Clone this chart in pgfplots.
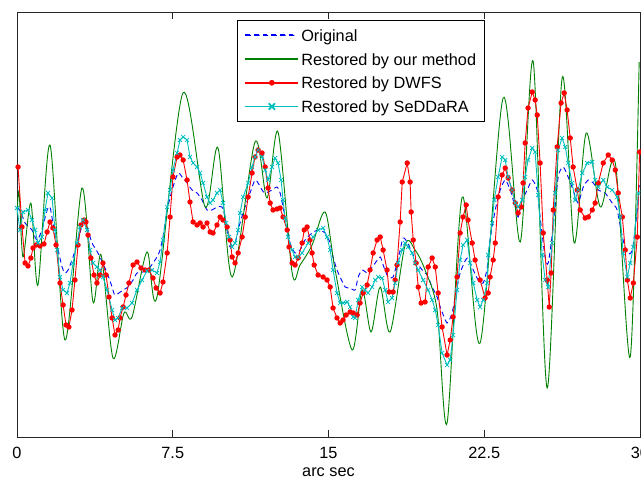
\documentclass[border=0pt]{standalone}
\usepackage{fontspec}
\setmainfont{Liberation Sans}
\usepackage{pgfplots}
\pgfplotsset{compat=1.18}
\definecolor{mblue}{rgb}{0,0,1}
\definecolor{mgreen}{rgb}{0,0.5,0}
\definecolor{mred}{rgb}{1,0,0}
\definecolor{mcyan}{rgb}{0,0.75,0.75}
\newcommand{\lf}{\fontsize{16.3}{19}\selectfont}
\begin{document}
\begin{tikzpicture}
\begin{axis}[
  at={(0pt,0pt)}, anchor=south west,
  scale only axis, width=623pt, height=425pt,
  xmin=0, xmax=30, ymin=0, ymax=425,
  xtick={0,7.5,15,22.5,30},
  ytick=\empty,
  tick align=inside,
  xtick pos=both,
  major tick length=7pt,
  /pgf/number format/assume math mode=true,
  xticklabel style={font=\lf, inner sep=0pt, yshift=-10pt},
  xlabel={arc sec},
  xlabel style={font=\lf, at={(axis description cs:0.5,0)}, anchor=base, yshift=-40pt},
  axis line style={line width=0.8pt, black!85},
  tick style={line width=0.8pt, black!85},
  legend style={font=\lf, at={(0.3531,0.9812)}, anchor=north west, line width=0.8pt, fill=white, inner xsep=8pt, inner ysep=6pt, row sep=5.7pt, column sep=3pt, nodes={inner sep=0pt, text height=15pt, text depth=3pt}},
  legend cell align=left,
]
\addplot[color=mblue, line width=0.9pt, dash pattern=on 5pt off 3.5pt, smooth, tension=0.4,
  legend image code/.code={\fill[mblue] (0pt,-0.45pt) rectangle (5pt,0.45pt) (8.7pt,-0.45pt) rectangle (13.7pt,0.45pt) (17.4pt,-0.45pt) rectangle (22.4pt,0.45pt) (26.1pt,-0.45pt) rectangle (31.1pt,0.45pt) (34.8pt,-0.45pt) rectangle (39.8pt,0.45pt) (43.5pt,-0.45pt) rectangle (48.5pt,0.45pt);}] coordinates {
(0.00,230) (0.19,225) (0.39,214) (0.72,207) (0.96,197) (1.20,207) (1.45,227) (1.59,230) (1.73,214) (1.93,192) (2.17,170) (2.31,164) (2.46,167) (2.70,180) (2.94,197) (3.18,214) (3.37,210) (3.61,194) (3.76,189) (4.00,180) (4.34,164) (4.58,150) (4.72,142) (5.11,147) (5.35,150) (5.59,157) (5.78,164) (6.07,165) (6.41,170) (6.74,180) (6.89,187) (7.03,200) (7.23,227) (7.51,250) (7.76,264) (7.95,260) (8.19,254) (8.43,247) (8.67,244) (8.91,237) (9.15,227) (9.39,227) (9.63,230) (9.87,230) (10.02,220) (10.16,200) (10.26,190) (10.50,194) (10.74,214) (10.98,230) (11.22,244) (11.46,257) (11.61,254) (11.80,247) (11.95,244) (12.28,247) (12.52,250) (12.67,244) (12.81,230) (13.01,210) (13.15,194) (13.39,184) (13.63,187) (13.87,197) (14.21,204) (14.50,207) (14.84,204) (15.08,194) (15.22,180) (15.41,167) (15.56,160) (15.80,150) (16.04,149) (16.28,147) (16.43,160) (16.62,167) (16.86,164) (17.00,167) (17.25,174) (17.49,180) (17.63,172) (17.87,160) (18.11,160) (18.30,174) (18.45,187) (18.59,199) (18.79,195) (19.03,184) (19.27,174) (19.51,167) (19.75,162) (19.99,150) (20.23,140) (20.38,130) (20.71,114) (20.95,124) (21.10,140) (21.34,164) (21.68,179) (21.97,167) (22.21,157) (22.45,154) (22.64,169) (22.78,197) (23.03,227) (23.27,247) (23.51,257) (23.75,247) (23.99,230) (24.13,220) (24.33,237) (24.57,247) (24.81,257) (25.05,247) (25.19,220) (25.43,180) (25.58,174) (25.82,210) (26.06,260) (26.30,270) (26.54,260) (26.78,247) (27.02,234) (27.27,250) (27.51,257) (27.75,254) (27.99,247) (28.32,244) (28.66,234) (28.90,227) (29.15,200) (29.39,184) (29.63,187) (29.87,227) (29.96,252)
};
\addlegendentry{Original}
\addplot[color=mgreen, line width=0.9pt, smooth,
  legend image code/.code={\fill[mgreen] (0pt,-0.45pt) rectangle (52pt,0.45pt);}] coordinates {
(0,222) (0.10,245) (0.29,180) (0.67,234) (1.01,152) (1.59,292) (2.31,97) (3.13,249) (3.66,135) (4.05,182) (4.62,79) (5.15,124) (5.54,120) (6.26,185) (6.74,140) (7.99,344) (9.06,230) (9.68,289) (10.36,160) (11.46,295) (12.04,239) (12.57,305) (13.25,164) (13.63,172) (14.21,192) (14.84,225) (15.32,167) (16.14,87) (16.62,147) (17.05,105) (17.49,150) (17.97,105) (18.69,192) (19.17,187) (19.65,167) (20.23,127) (20.71,14) (21.44,240) (22.30,94) (23.41,339) (24.23,195) (24.86,375) (25.53,49) (26.25,359) (26.83,194) (27.41,304) (28.09,230) (28.81,274) (29.53,80) (29.96,375)
};
\addlegendentry{Restored by our method}
\addplot[color=mred, line width=0.9pt, mark=*, mark size=2.2pt, mark options={solid, fill=mred, draw=mred},
  legend image code/.code={\fill[mred] (0pt,-0.45pt) rectangle (52pt,0.45pt); \fill[mred] (26pt,0pt) circle (2.4pt);}] coordinates {
(0.05,270) (0.24,210) (0.39,174) (0.53,171) (0.67,179) (0.77,189) (0.92,192) (1.11,191) (1.30,193) (1.45,205) (1.59,215) (1.73,209) (1.88,192) (2.07,154) (2.22,132) (2.36,112) (2.50,110) (2.65,127) (2.79,157) (2.94,192) (3.08,212) (3.23,217) (3.32,215) (3.42,202) (3.56,179) (3.71,162) (3.85,154) (4.00,162) (4.14,174) (4.29,162) (4.43,140) (4.58,119) (4.72,102) (4.87,107) (4.96,119) (5.11,130) (5.25,142) (5.39,154) (5.59,172) (5.78,175) (5.97,169) (6.17,167) (6.36,167) (6.55,159) (6.70,149) (6.89,144) (7.03,155) (7.23,184) (7.37,220) (7.51,260) (7.71,280) (7.85,282) (8.00,277) (8.19,257) (8.33,235) (8.48,215) (8.67,212) (8.82,214) (8.96,210) (9.15,214) (9.30,205) (9.44,204) (9.63,212) (9.78,220) (9.92,217) (10.12,210) (10.26,197) (10.36,180) (10.50,174) (10.65,184) (10.84,200) (10.99,220) (11.13,240) (11.32,264) (11.46,280) (11.61,287) (11.80,284) (11.95,270) (12.09,249) (12.19,234) (12.33,227) (12.52,228) (12.67,229) (12.81,220) (13.01,207) (13.10,190) (13.25,174) (13.39,172) (13.54,179) (13.73,194) (13.83,207) (13.97,210) (14.11,197) (14.21,184) (14.31,172) (14.50,162) (14.74,160) (14.93,157) (15.08,150) (15.22,129) (15.41,119) (15.56,114) (15.70,117) (15.85,122) (16.04,125) (16.19,124) (16.38,122) (16.52,134) (16.67,144) (16.86,152) (17.00,167) (17.15,184) (17.34,197) (17.49,200) (17.63,187) (17.82,167) (17.92,145) (18.11,145) (18.21,157) (18.30,172) (18.45,215) (18.55,255) (18.79,274) (18.93,255) (18.98,225) (19.08,197) (19.22,174) (19.32,150) (19.46,134) (19.65,135) (19.80,170) (19.99,179) (20.14,170) (20.28,144) (20.47,110) (20.71,82) (20.86,97) (21.00,120) (21.19,160) (21.34,204) (21.48,220) (21.63,232) (21.72,217) (21.92,194) (22.06,177) (22.30,157) (22.54,139) (22.69,144) (22.78,160) (22.93,177) (23.03,194) (23.17,240) (23.36,262) (23.51,269) (23.65,259) (23.84,247) (23.99,234) (24.13,224) (24.28,230) (24.37,254) (24.47,294) (24.61,329) (24.81,345) (24.95,337) (25.05,322) (25.19,274) (25.34,204) (25.53,157) (25.63,130) (25.72,164) (25.82,227) (26.01,290) (26.20,334) (26.35,344) (26.49,327) (26.64,299) (26.78,270) (26.98,247) (27.12,227) (27.36,219) (27.51,220) (27.70,227) (27.84,234) (27.99,254) (28.23,274) (28.47,282) (28.66,277) (28.81,267) (28.95,244) (29.15,220) (29.29,187) (29.39,157) (29.53,139) (29.68,154) (29.87,200) (29.98,285)
};
\addlegendentry{Restored by DWFS}
\addplot[color=mcyan, line width=0.9pt, mark=x, mark size=2.8pt, mark options={solid, line width=0.8pt, draw=mcyan},
  legend image code/.code={\fill[mcyan] (0pt,-0.45pt) rectangle (52pt,0.45pt); \fill[mcyan, rotate around={45:(26pt,0pt)}] (22pt,-0.45pt) rectangle (30pt,0.45pt); \fill[mcyan, rotate around={-45:(26pt,0pt)}] (22pt,-0.45pt) rectangle (30pt,0.45pt);}] coordinates {
(0.00,229) (0.14,207) (0.29,225) (0.53,227) (0.72,217) (0.87,207) (1.01,194) (1.20,200) (1.35,227) (1.49,244) (1.69,239) (1.83,207) (1.93,187) (2.07,160) (2.22,147) (2.41,144) (2.55,154) (2.70,174) (2.89,194) (3.03,210) (3.18,217) (3.37,207) (3.52,187) (3.66,174) (3.85,170) (4.00,167) (4.14,160) (4.34,147) (4.58,127) (4.72,117) (4.87,119) (5.06,129) (5.30,129) (5.54,134) (5.78,147) (6.02,157) (6.26,166) (6.50,167) (6.74,164) (6.89,175) (7.03,197) (7.23,230) (7.37,247) (7.51,267) (7.71,284) (7.85,297) (8.00,300) (8.19,297) (8.33,280) (8.48,274) (8.67,270) (8.82,264) (8.96,254) (9.15,240) (9.30,234) (9.44,237) (9.63,244) (9.78,247) (9.92,234) (10.07,214) (10.21,200) (10.36,190) (10.50,194) (10.65,207) (10.74,224) (10.89,240) (11.13,254) (11.32,270) (11.46,280) (11.61,287) (11.80,280) (11.95,267) (12.09,257) (12.28,270) (12.43,279) (12.57,274) (12.72,257) (12.81,237) (12.91,219) (13.05,200) (13.25,187) (13.39,180) (13.54,180) (13.73,184) (14.02,194) (14.26,200) (14.50,207) (14.74,209) (14.93,200) (15.08,187) (15.22,167) (15.41,144) (15.56,134) (15.70,134) (15.90,135) (16.04,130) (16.19,120) (16.28,119) (16.43,137) (16.62,150) (16.76,147) (16.91,144) (17.10,150) (17.25,157) (17.39,160) (17.58,159) (17.73,147) (17.87,135) (18.06,139) (18.21,154) (18.35,174) (18.55,187) (18.69,194) (18.83,190) (19.03,184) (19.17,174) (19.32,167) (19.56,157) (19.80,147) (19.99,137) (20.14,127) (20.28,112) (20.47,84) (20.71,72) (20.86,77) (21.00,102) (21.19,147) (21.34,177) (21.48,192) (21.68,197) (21.82,174) (21.97,154) (22.16,137) (22.30,130) (22.45,137) (22.64,154) (22.69,182) (22.88,214) (22.98,237) (23.17,260) (23.36,280) (23.51,277) (23.65,260) (23.84,247) (23.99,234) (24.13,230) (24.33,237) (24.47,260) (24.61,277) (24.81,289) (24.95,285) (25.10,242) (25.29,182) (25.43,157) (25.58,150) (25.77,194) (25.92,244) (26.06,287) (26.25,299) (26.40,290) (26.54,274) (26.73,254) (26.88,237) (27.02,247) (27.22,264) (27.46,274) (27.70,275) (27.84,257) (27.99,250) (28.23,257) (28.42,250) (28.66,247) (28.90,240) (29.05,220) (29.19,184) (29.39,160) (29.53,174) (29.68,190) (29.92,244)
};
\addlegendentry{Restored by SeDDaRA}
\end{axis}
\pgfresetboundingbox
\useasboundingbox (-17pt,-42pt) rectangle (624pt,437pt);
\end{tikzpicture}
\end{document}
